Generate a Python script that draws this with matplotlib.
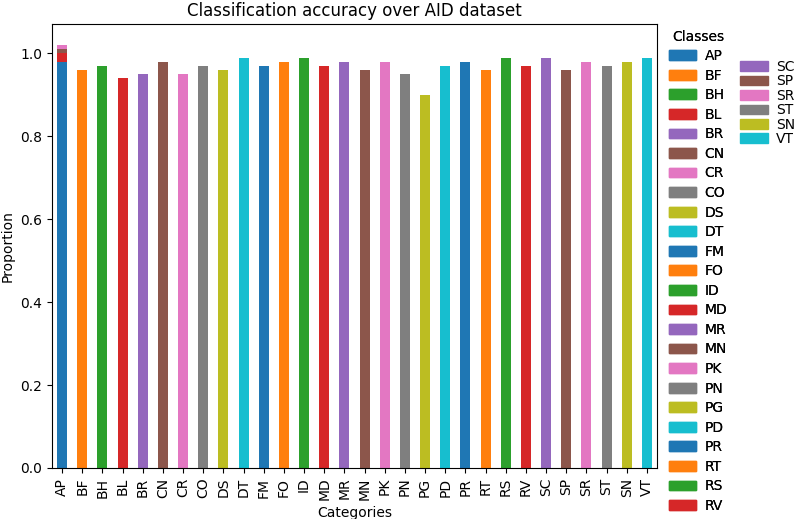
import numpy as np
import pandas as pd
import matplotlib
matplotlib.use("Agg")
import matplotlib.pyplot as plt
from matplotlib.patches import Patch

categories = ["AP", "BF", "BH", "BL", "BR", "CN", "CR", "CO", "DS", "DT",
              "FM", "FO", "ID", "MD", "MR", "MN", "PK", "PN", "PG", "PD",
              "PR", "RT", "RS", "RV", "SC", "SP", "SR", "ST", "SN", "VT"]

# per-class accuracy (diagonal of the confusion matrix)
accuracy = [0.98, 0.96, 0.97, 0.94, 0.95, 0.98, 0.95, 0.97, 0.96, 0.99,
            0.97, 0.98, 0.99, 0.97, 0.98, 0.96, 0.98, 0.95, 0.90, 0.97,
            0.98, 0.96, 0.99, 0.97, 0.99, 0.96, 0.98, 0.97, 0.98, 0.99]

# off-diagonal proportions for AP
ap_confused = ["BL", "CN", "CR"]
ap_confused_vals = [0.02, 0.01, 0.01]

df = pd.DataFrame(np.diag(accuracy), index=categories, columns=categories)
for c, v in zip(ap_confused, ap_confused_vals):
    df.loc["AP", c] = v

fig = plt.figure(figsize=(7.97, 5.19), dpi=100)
ax = fig.add_axes([0.0652, 0.0983, 0.7591, 0.8555])
df.plot(kind="bar", stacked=True, ax=ax, legend=False)

ax.set_title("Classification accuracy over AID dataset")
ax.set_xlabel("Categories")
ax.set_ylabel("Proportion")

# legend split in two blocks: 24 entries, then the last 6 packed tighter
colors = ["C%d" % (i % 10) for i in range(len(categories))]
handles = [Patch(color=colors[i], label=categories[i]) for i in range(len(categories))]
leg1 = ax.legend(handles[:24], categories[:24], title="Classes", loc="upper left",
                 bbox_to_anchor=(1.01, 1.0), borderaxespad=0, frameon=False,
                 labelspacing=0.4, handletextpad=0.6)
ax.add_artist(leg1)
fig.legend(handles[24:], categories[24:], loc="upper left",
           bbox_to_anchor=(740 / 797, 1 - 60 / 519), borderaxespad=0,
           borderpad=0, frameon=False, labelspacing=0.03, handletextpad=0.6)

fig.savefig("out.png", dpi=100)
